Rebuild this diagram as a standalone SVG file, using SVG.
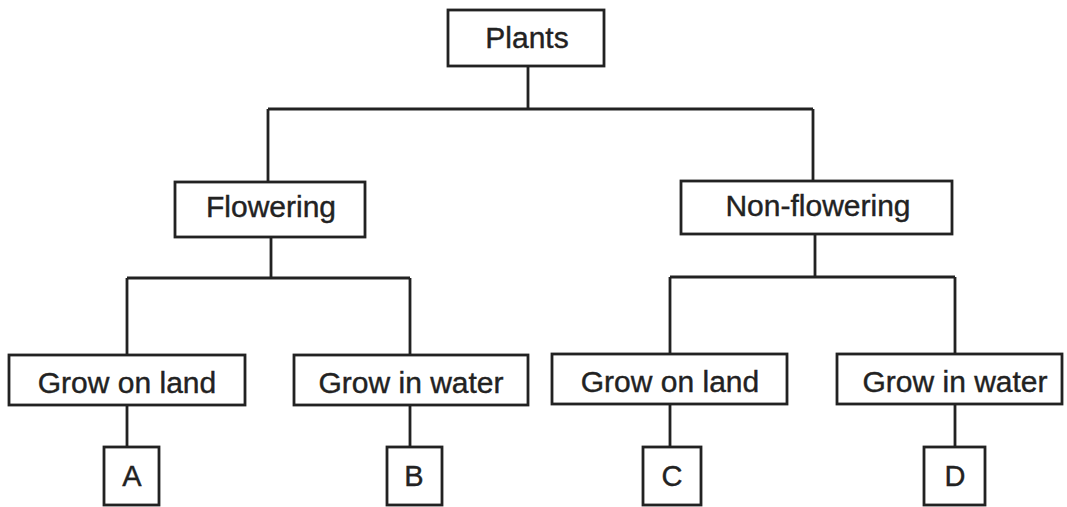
<svg xmlns="http://www.w3.org/2000/svg" width="1067" height="507" viewBox="0 0 1067 507">
<style>
.box{fill:#fff;stroke:#222;stroke-width:2.8}
.t{font-family:"Liberation Sans",Arial,sans-serif;font-size:30px;fill:#222;stroke:#222;stroke-width:0.4;text-anchor:middle}
.l{font-family:"Liberation Sans",Arial,sans-serif;font-size:29px;fill:#222;stroke:#222;stroke-width:0.4;text-anchor:middle}
.c{fill:none;stroke:#222;stroke-width:2.8}
</style>
<rect width="1067" height="507" fill="#fff"/>
<g id="connectors" class="c">
<path d="M528 66 V109 M268 109 H813 M268 109 V182 M813 109 V181"/>
<path d="M271 237 V278 M127 278 H410 M127 278 V355 M410 278 V355"/>
<path d="M815 234 V277 M670 277 H955 M670 277 V354 M955 277 V354"/>
<path d="M127 405 V447 M410 405 V447 M670 404 V447 M955 404 V447"/>
</g>
<g id="plants"><rect class="box" x="448" y="10" width="156" height="56"/><text class="t" x="527" y="48">Plants</text></g>
<g id="flowering"><rect class="box" x="175" y="182" width="190" height="55"/><text class="t" x="271" y="217">Flowering</text></g>
<g id="nonflowering"><rect class="box" x="681" y="181" width="271" height="53"/><text class="t" x="818" y="216">Non-flowering</text></g>
<g id="land1"><rect class="box" x="9" y="355" width="236" height="50"/><text class="t" x="127" y="393">Grow on land</text></g>
<g id="water1"><rect class="box" x="294" y="355" width="234" height="50"/><text class="t" x="411" y="393">Grow in water</text></g>
<g id="land2"><rect class="box" x="552" y="354" width="235" height="50"/><text class="t" x="670" y="392">Grow on land</text></g>
<g id="water2"><rect class="box" x="837" y="354" width="225" height="50"/><text class="t" x="955" y="392">Grow in water</text></g>
<g id="A"><rect class="box" x="104" y="447" width="55" height="58"/><text class="l" x="132" y="486">A</text></g>
<g id="B"><rect class="box" x="387" y="447" width="55" height="58"/><text class="l" x="414" y="486">B</text></g>
<g id="C"><rect class="box" x="643" y="447" width="58" height="58"/><text class="l" x="672" y="486">C</text></g>
<g id="D"><rect class="box" x="924" y="447" width="61" height="58"/><text class="l" x="955" y="486">D</text></g>
</svg>
